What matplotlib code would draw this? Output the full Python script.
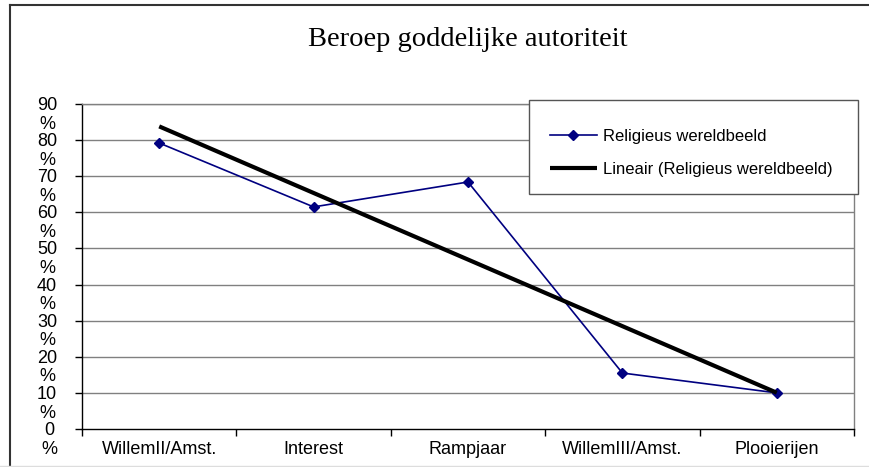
import numpy as np
import matplotlib
matplotlib.use("Agg")
import matplotlib.pyplot as plt
from matplotlib.lines import Line2D
from matplotlib.patches import Rectangle
from matplotlib.transforms import ScaledTranslation

# data
categories = ["WillemII/Amst.", "Interest", "Rampjaar", "WillemIII/Amst.", "Plooierijen"]
values = [79.2, 61.5, 68.4, 15.5, 10.0]
y_ticks = [0, 10, 20, 30, 40, 50, 60, 70, 80, 90]
series_label = "Religieus wereldbeeld"
trend_label = "Lineair (Religieus wereldbeeld)"
title = "Beroep goddelijke autoriteit"

W, H = 869, 467
plt.rcParams["font.family"] = ["Liberation Sans", "DejaVu Sans"]

fig = plt.figure(figsize=(W / 100, H / 100), dpi=100)
ax = fig.add_axes([82 / W, 1 - 429 / H, (854 - 82) / W, (429 - 104) / H])

x = np.arange(1, len(categories) + 1)

# gridlines
for v in y_ticks[1:]:
    ax.axhline(v, color="#808080", lw=1.0, zorder=1)

# series and linear trend
line, = ax.plot(x, values, color="#000080", lw=1.2, marker="D", markersize=5.5,
                zorder=3, label=series_label)
slope, icpt = np.polyfit(x, values, 1)
trend, = ax.plot(x, slope * x + icpt, color="black", lw=3.0, zorder=4,
                 solid_capstyle="butt", label=trend_label)

ax.set_xlim(0.5, len(categories) + 0.5)
ax.set_ylim(0, 90)

# x axis: labels centered, ticks on category boundaries
ax.set_xticks(x)
ax.set_xticklabels(categories, fontsize=13)
ax.set_xticks(np.arange(0.5, len(categories) + 1, 1), minor=True)
ax.tick_params(axis="x", which="major", length=0, pad=9)
ax.tick_params(axis="x", which="minor", length=5, width=1, color="black", direction="out")

# y axis: "90\n%" style labels
ax.set_yticks(y_ticks)
ax.set_yticklabels([f"{v}\n%" for v in y_ticks], fontsize=13)
ax.tick_params(axis="y", length=5, width=1, direction="out", pad=13)
shift = ScaledTranslation(0, 5 / 72, fig.dpi_scale_trans)
for lab in ax.get_yticklabels():
    lab.set_verticalalignment("top")
    lab.set_multialignment("center")
    lab.set_linespacing(1.12)
    lab.set_transform(lab.get_transform() + shift)

ax.spines["left"].set_color("black")
ax.spines["bottom"].set_color("black")
ax.spines["right"].set_color("#808080")
ax.spines["top"].set_color("#808080")
for s in ax.spines.values():
    s.set_linewidth(1.0)

ax.set_title(title, fontsize=20.5, family=["Liberation Serif", "DejaVu Serif"], pad=42)

# legend box
box = Rectangle((529 / W, 1 - 194 / H), (858 - 529) / W, (194 - 100) / H,
                transform=fig.transFigure, facecolor="white", edgecolor="#555555",
                lw=1.0, zorder=5)
fig.add_artist(box)
leg = fig.legend(handles=[line, trend], loc="center left",
                 bbox_to_anchor=(550 / W, 1 - 153 / H), bbox_transform=fig.transFigure,
                 frameon=False, fontsize=12, handlelength=2.8, handletextpad=0.4,
                 labelspacing=1.05, borderpad=0, borderaxespad=0)
leg.set_zorder(6)

# outer chart frame
fig.add_artist(Line2D([10 / W, 10 / W], [0, 1 - 5 / H], transform=fig.transFigure,
                      color="#333333", lw=1.5))
fig.add_artist(Line2D([10 / W, 1], [1 - 5 / H, 1 - 5 / H], transform=fig.transFigure,
                      color="#333333", lw=1.5))
fig.add_artist(Line2D([0, 1], [1.5 / H, 1.5 / H], transform=fig.transFigure,
                      color="#dddddd", lw=1.0))

fig.savefig("out.png", dpi=100)
